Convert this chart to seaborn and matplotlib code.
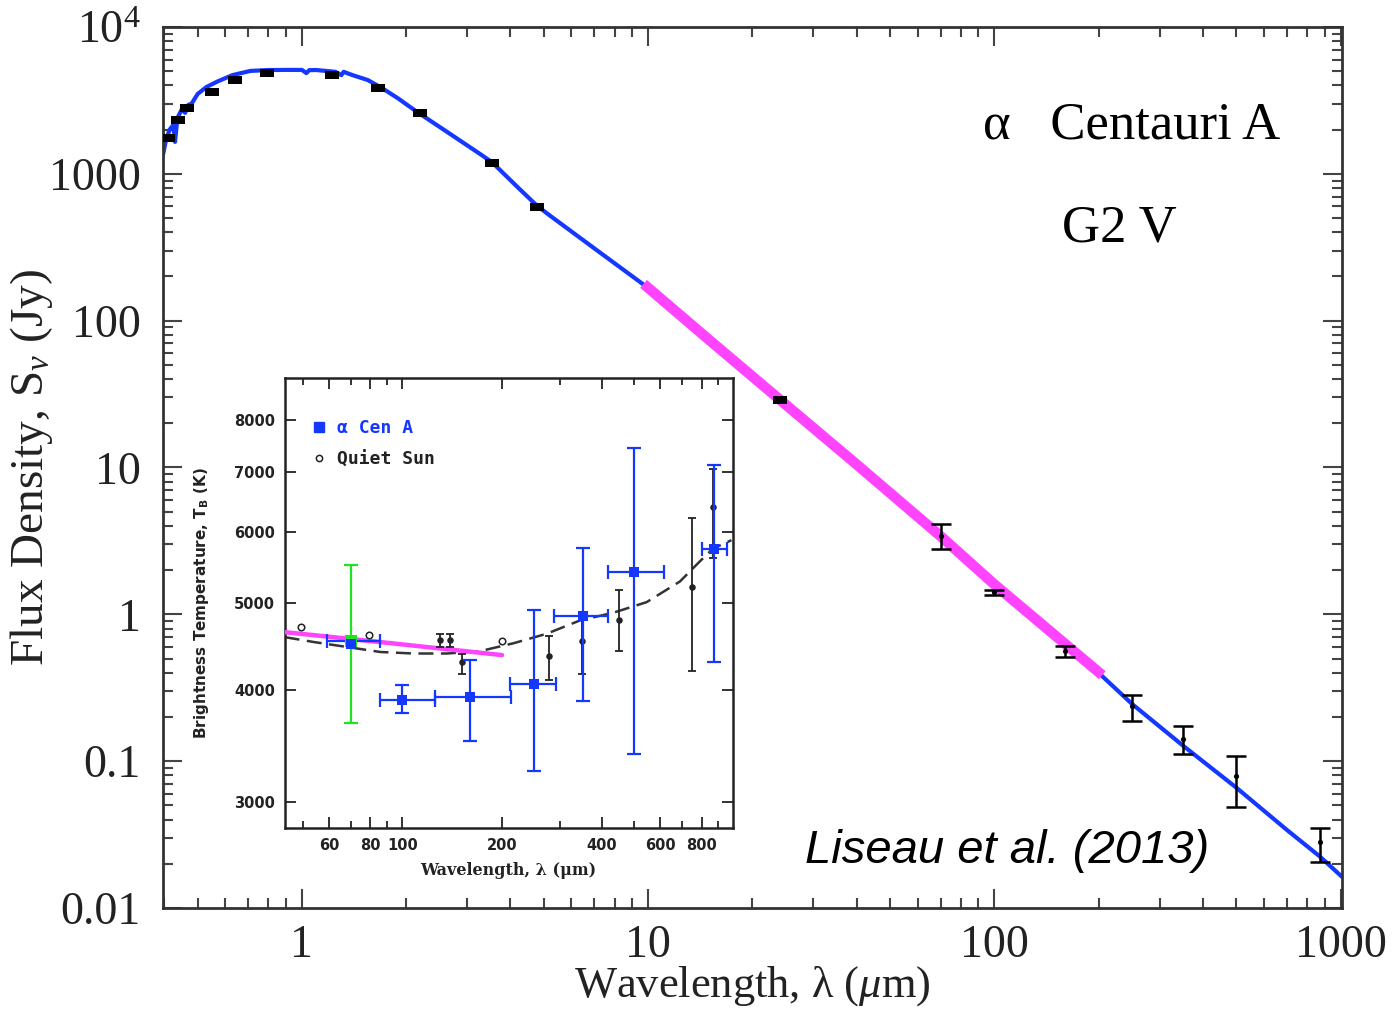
import numpy as np
import pandas as pd
import matplotlib
matplotlib.use("Agg")
import matplotlib.pyplot as plt
import seaborn as sns
from matplotlib.ticker import FixedLocator, FixedFormatter, NullFormatter
from matplotlib.lines import Line2D

# ---------------- main SED: photospheric model ----------------
model_lam = [0.397, 0.405, 0.415, 0.425, 0.430, 0.437, 0.45, 0.46, 0.47, 0.48,
             0.50, 0.53, 0.57, 0.63, 0.71, 0.80, 0.90, 1.00, 1.03, 1.05,
             1.10, 1.25, 1.30, 1.32, 1.40, 1.55, 1.70, 1.90, 2.15, 2.6,
             3.3, 3.54, 4.2, 4.78, 5.2, 7.0, 10, 15, 24, 40, 70, 100,
             160, 200, 250, 350, 500, 700, 870, 1010]
model_flux = [1350, 1700, 2000, 2150, 1650, 2400, 2750, 2600, 2950, 3000,
              3500, 3900, 4250, 4700, 5020, 5090, 5100, 5100, 4850, 5080,
              5090, 4950, 4700, 4950, 4700, 4350, 3850, 3250, 2640, 1960,
              1345, 1200, 810, 605, 520, 310, 167, 74, 29, 10.5, 3.4, 1.60,
              0.63, 0.40, 0.245, 0.128, 0.066, 0.034, 0.0225, 0.0163]

# mid/far-IR model segment
seg_lam = [9.7, 15, 24, 40, 70, 100, 160, 205]
seg_flux = [178, 74, 29, 10.5, 3.4, 1.60, 0.63, 0.385]

# optical / near-IR photometry
phot_lam = [0.410, 0.438, 0.465, 0.549, 0.640, 0.792, 1.22, 1.66, 2.19, 3.54, 4.78, 24.0]
phot_flux = [1758, 2328, 2812, 3612, 4360, 4863, 4713, 3846, 2600, 1189, 597, 29.0]

# far-IR / sub-mm photometry with uncertainties
fir_lam = [70, 100, 160, 250, 350, 500, 870]
fir_flux = [3.40, 1.41, 0.56, 0.237, 0.141, 0.079, 0.0281]
fir_lo = [2.77, 1.36, 0.51, 0.187, 0.112, 0.0486, 0.0206]
fir_hi = [4.09, 1.47, 0.61, 0.281, 0.173, 0.108, 0.035]

# ---------------- inset: brightness temperature ----------------
acen_lam = [100, 160, 250, 350, 500, 870]
acen_tb = [3900, 3928, 4065, 4836, 5418, 5744]
acen_tlo = [3775, 3512, 3250, 3890, 3395, 4300]
acen_thi = [4055, 4319, 4917, 5763, 7443, 7133]
acen_xlo = [85.4, 125.7, 212, 287.6, 416.5, 805]
acen_xhi = [125.7, 212.5, 290, 418, 616.7, 954]

pacs70_lam = [70]
pacs70_tb = [4538]
pacs70_tlo = [3673]
pacs70_thi = [5512]
pacs70_xlo = [59.3]
pacs70_xhi = [85.4]

sun_open_lam = [49.5, 79.1, 199.6]
sun_open_tb = [4698, 4609, 4538]

sun_lam = [129.5, 139.5, 151.3, 277.7, 347.8, 451, 749, 866.6]
sun_tb = [4547, 4547, 4300, 4364, 4538, 4790, 5211, 6396]
sun_tlo = [4470, 4470, 4170, 4100, 4170, 4420, 4200, 5620]
sun_thi = [4620, 4620, 4390, 4600, 4850, 5170, 6220, 7060]

qs_model_lam = [44.1, 54.1, 68.1, 85.8, 108.2, 136.4, 171.8, 216.4, 272.8, 344,
                433.3, 546.5, 688.7, 790, 866.6, 985]
qs_model_tb = [4582, 4524, 4467, 4410, 4393, 4393, 4420, 4510, 4622, 4783,
               4878, 5013, 5286, 5564, 5753, 5877]

inset_seg_lam = [44.1, 85.8, 200]
inset_seg_tb = [4641, 4524, 4375]

BLUE = "#1438ff"
MAGENTA = "#ff44ff"
GREEN = "#22e022"
INK = "#222222"

sns.set_style("ticks")
plt.rcParams["font.family"] = ["Liberation Serif", "DejaVu Serif"]
plt.rcParams["mathtext.fontset"] = "custom"
plt.rcParams["mathtext.rm"] = "Liberation Serif"
plt.rcParams["mathtext.it"] = "Liberation Serif:italic"

fig = plt.figure(figsize=(13.92, 10.10), dpi=100)
ax = fig.add_axes([0.1171, 0.101, 0.847, 0.8723])

model_df = pd.DataFrame({"lam": model_lam, "flux": model_flux})
seg_df = pd.DataFrame({"lam": seg_lam, "flux": seg_flux})
sns.lineplot(data=model_df, x="lam", y="flux", ax=ax, color=BLUE, lw=3,
             sort=False, estimator=None, zorder=2)
sns.lineplot(data=seg_df, x="lam", y="flux", ax=ax, color=MAGENTA, lw=7.5,
             sort=False, estimator=None, zorder=3, solid_capstyle="butt")

rect = [(-1, -0.5), (1, -0.5), (1, 0.5), (-1, 0.5), (-1, -0.5)]
sns.scatterplot(x=phot_lam, y=phot_flux, ax=ax, marker=rect, s=110,
                color="black", edgecolor="black", linewidth=0, zorder=5)

ferr = [np.array(fir_flux) - np.array(fir_lo), np.array(fir_hi) - np.array(fir_flux)]
ax.errorbar(fir_lam, fir_flux, yerr=ferr, fmt="none", ecolor="black",
            elinewidth=1.8, capsize=7, capthick=1.8, zorder=6)
sns.scatterplot(x=fir_lam, y=fir_flux, ax=ax, color="black", s=14,
                linewidth=0, zorder=7)

ax.set_xscale("log")
ax.set_yscale("log")
ax.set_xlim(0.397, 1010)
ax.set_ylim(0.01, 1e4)

xmaj = [1, 10, 100, 1000]
ax.xaxis.set_major_locator(FixedLocator(xmaj))
ax.xaxis.set_major_formatter(FixedFormatter(["1", "10", "100", "1000"]))
xmin = [m * d for d in [0.1, 1, 10, 100] for m in range(2, 10) if 0.397 <= m * d <= 1010]
ax.xaxis.set_minor_locator(FixedLocator(xmin))
ax.xaxis.set_minor_formatter(NullFormatter())

ymaj = [0.01, 0.1, 1, 10, 100, 1000, 1e4]
ax.yaxis.set_major_locator(FixedLocator(ymaj))
ax.yaxis.set_major_formatter(FixedFormatter(
    ["0.01", "0.1", "1", "10", "100", "1000", r"$\mathregular{10^4}$"]))
ymin = [m * d for d in [0.01, 0.1, 1, 10, 100, 1000] for m in range(2, 10)]
ax.yaxis.set_minor_locator(FixedLocator(ymin))
ax.yaxis.set_minor_formatter(NullFormatter())

for sp in ax.spines.values():
    sp.set_visible(True)
    sp.set_linewidth(2.0)
    sp.set_color("#333333")
ax.tick_params(which="both", direction="in", top=True, right=True,
               color="#444444", width=1.5)
ax.tick_params(which="major", length=14)
ax.tick_params(which="minor", length=7)
ax.tick_params(axis="x", which="major", labelsize=33, pad=12, labelcolor=INK)
ax.tick_params(axis="y", which="major", labelsize=33, pad=16, labelcolor=INK)

ax.set_xlabel("Wavelength, λ ($\\mu$m)", fontsize=32, color=INK)
ax.set_ylabel("Flux Density, S$_\\nu$ (Jy)", fontsize=34, color=INK)
ax.xaxis.set_label_coords(0.5, -0.064)
ax.yaxis.set_label_coords(-0.092, 0.5)

ax.text(0.6955, 0.873, "α   Centauri A", transform=ax.transAxes, fontsize=38,
        ha="left", va="baseline", color="black")
ax.text(0.7625, 0.756, "G2 V", transform=ax.transAxes, fontsize=38,
        ha="left", va="baseline", color="black")
ax.text(0.5445, 0.051, "Liseau et al. (2013)", transform=ax.transAxes,
        fontsize=34, style="italic", family=["Liberation Sans", "DejaVu Sans"],
        ha="left", va="baseline", color="black")

# ---------------- inset ----------------
ax2 = fig.add_axes([0.2047, 0.1802, 0.3218, 0.4455], zorder=10)
ax2.set_facecolor("white")

qs_df = pd.DataFrame({"lam": qs_model_lam, "tb": qs_model_tb})
sns.lineplot(data=qs_df, x="lam", y="tb", ax=ax2, color="#333333", lw=1.8,
             sort=False, estimator=None, linestyle=(0, (6, 3)), zorder=2)
iseg_df = pd.DataFrame({"lam": inset_seg_lam, "tb": inset_seg_tb})
sns.lineplot(data=iseg_df, x="lam", y="tb", ax=ax2, color=MAGENTA, lw=3.2,
             sort=False, estimator=None, zorder=3)

serr = [np.array(sun_tb) - np.array(sun_tlo), np.array(sun_thi) - np.array(sun_tb)]
ax2.errorbar(sun_lam, sun_tb, yerr=serr, fmt="none", ecolor="#222222",
             elinewidth=1.3, capsize=3, capthick=1.3, zorder=4)
sns.scatterplot(x=sun_lam, y=sun_tb, ax=ax2, color="#222222", s=22,
                linewidth=0, zorder=5)
sns.scatterplot(x=sun_open_lam, y=sun_open_tb, ax=ax2, facecolor="white",
                edgecolor="#222222", s=22, linewidth=1.1, zorder=5)

aerr_y = [np.array(acen_tb) - np.array(acen_tlo), np.array(acen_thi) - np.array(acen_tb)]
aerr_x = [np.array(acen_lam) - np.array(acen_xlo), np.array(acen_xhi) - np.array(acen_lam)]
ax2.errorbar(acen_lam, acen_tb, xerr=aerr_x, yerr=aerr_y, fmt="none", ecolor=BLUE,
             elinewidth=1.6, capsize=5, capthick=1.6, zorder=6)
ax2.errorbar(pacs70_lam, pacs70_tb,
             xerr=[[pacs70_lam[0] - pacs70_xlo[0]], [pacs70_xhi[0] - pacs70_lam[0]]],
             fmt="none", ecolor=BLUE, elinewidth=1.6, capsize=5, capthick=1.6, zorder=6)
ax2.errorbar(pacs70_lam, pacs70_tb,
             yerr=[[pacs70_tb[0] - pacs70_tlo[0]], [pacs70_thi[0] - pacs70_tb[0]]],
             fmt="none", ecolor=GREEN, elinewidth=1.6, capsize=5, capthick=1.6, zorder=6)
sns.scatterplot(x=pacs70_lam, y=pacs70_tb, ax=ax2, marker="s", color=GREEN,
                s=75, linewidth=0, zorder=7)
sns.scatterplot(x=acen_lam + pacs70_lam, y=acen_tb + [4500], ax=ax2, marker="s",
                color=BLUE, s=60, linewidth=0, zorder=8)

ax2.set_xscale("log")
ax2.set_yscale("log")
ax2.set_xlim(44.2, 995)
ax2.set_ylim(2806, 8914)

ix_maj = [60, 80, 100, 200, 400, 600, 800]
ax2.xaxis.set_major_locator(FixedLocator(ix_maj))
ax2.xaxis.set_major_formatter(FixedFormatter([str(v) for v in ix_maj]))
ax2.xaxis.set_minor_locator(FixedLocator([50, 70, 90, 300, 500, 700, 900]))
ax2.xaxis.set_minor_formatter(NullFormatter())
iy_maj = [3000, 4000, 5000, 6000, 7000, 8000]
ax2.yaxis.set_major_locator(FixedLocator(iy_maj))
ax2.yaxis.set_major_formatter(FixedFormatter([str(v) for v in iy_maj]))
ax2.yaxis.set_minor_locator(FixedLocator([]))

for sp in ax2.spines.values():
    sp.set_visible(True)
    sp.set_linewidth(1.8)
    sp.set_color("#222222")
ax2.tick_params(which="both", direction="in", top=True, right=True,
                color="#222222", width=1.3)
ax2.tick_params(which="major", length=8, pad=7)
ax2.tick_params(which="minor", length=5)
for lab in ax2.get_xticklabels() + ax2.get_yticklabels():
    lab.set_fontfamily("DejaVu Sans")
    lab.set_fontweight("bold")
    lab.set_fontsize(10.5)
    lab.set_color("#222222")

ax2.set_xlabel("Wavelength, λ (μm)", fontsize=11.5, fontweight="bold",
               family=["DejaVu Serif"], color="#222222")
ax2.set_ylabel("Brightness Temperature, T$_\\mathbf{B}$ (K)", fontsize=11,
               fontweight="bold", family=["DejaVu Sans"], color="#222222")
ax2.xaxis.set_label_coords(0.498, -0.075)
ax2.yaxis.set_label_coords(-0.165, 0.5)

h1 = Line2D([], [], marker="s", color=BLUE, ls="none", markersize=7)
h2 = Line2D([], [], marker="o", mfc="white", mec="#222222", ls="none",
            markersize=4.5, mew=1.1)
leg = ax2.legend([h1, h2], ["α Cen A", "Quiet Sun"], loc="upper left",
                 bbox_to_anchor=(0.015, 0.945), frameon=False,
                 prop={"family": "DejaVu Sans Mono", "weight": "bold", "size": 13},
                 handletextpad=0.4, labelspacing=0.75, handlelength=1.2)
leg.get_texts()[0].set_color(BLUE)
leg.get_texts()[1].set_color("#222222")

fig.savefig("out.png", dpi=100)
